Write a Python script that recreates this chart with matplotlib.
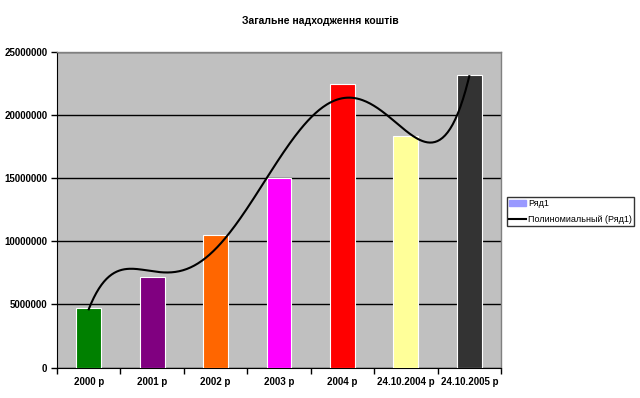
import numpy as np
import matplotlib
matplotlib.use("Agg")
from matplotlib import pyplot as plt
from matplotlib.patches import Patch
from matplotlib.lines import Line2D

plt.rcParams['font.family'] = ['Liberation Sans', 'DejaVu Sans']

title = "Загальне надходження коштів"
categories = ["2000 р", "2001 р", "2002 р", "2003 р", "2004 р", "24.10.2004 р", "24.10.2005 р"]
values = [4680000, 7180000, 10480000, 15030000, 22400000, 18290000, 23120000]
bar_colors = ["#008000", "#800080", "#FF6600", "#FF00FF", "#FF0000", "#FFFF99", "#333333"]
yticks = [0, 5000000, 10000000, 15000000, 20000000, 25000000]
legend_labels = ["Ряд1", "Полиномиальный (Ряд1)"]

fig = plt.figure(figsize=(6.4, 3.98), dpi=100)
fig.patch.set_facecolor("white")
ax = fig.add_axes([57/640, 1-367.5/398, 444/640, 316/398])
ax.set_facecolor("#C0C0C0")

x = np.arange(1, len(values) + 1)
ax.bar(x, values, width=0.39, color=bar_colors, edgecolor="white", linewidth=0.8, zorder=3)

# полиномиальная линия тренда, степень 5
coef = np.polyfit(x, values, 5)
xs = np.linspace(1, len(values), 300)
ax.plot(xs, np.polyval(coef, xs), color="black", linewidth=1.5, zorder=4)

ax.set_xlim(0.5, len(values) + 0.5)
ax.set_ylim(0, 25000000)
ax.set_yticks(yticks)
ax.set_yticklabels([str(v) for v in yticks], fontsize=7, fontweight="bold")
ax.yaxis.grid(True, color="black", linewidth=1, zorder=1)
ax.set_axisbelow(True)

ax.set_xticks(x)
ax.set_xticklabels(categories, fontsize=7, fontweight="bold")
ax.tick_params(axis="x", length=0, pad=7)
ax.set_xticks(np.arange(0.5, len(values) + 1), minor=True)
ax.tick_params(axis="x", which="minor", length=4, direction="out", width=1)
ax.tick_params(axis="y", length=4, direction="out", width=1, pad=3)

for side in ["top", "right"]:
    ax.spines[side].set_color("#808080")
    ax.spines[side].set_linewidth(1)
ax.spines["left"].set_color("black")
ax.spines["bottom"].set_color("black")

fig.text(0.5, 1 - 21/398, title, ha="center", va="center", fontsize=7.5, fontweight="bold")

handles = [Patch(facecolor="#9999FF", edgecolor="#9999FF", hatch="...."),
           Line2D([0], [0], color="black", linewidth=1.5)]
leg = fig.legend(handles, legend_labels, loc="upper left",
                 bbox_to_anchor=(507/640, 1 - 197/398), fontsize=6.5,
                 frameon=True, fancybox=False, edgecolor="black",
                 handlelength=1.9, handleheight=0.5, handletextpad=0.2,
                 borderpad=0.25, labelspacing=0.75, borderaxespad=0)
leg.get_frame().set_linewidth(1)

fig.savefig("out.png", dpi=100)
